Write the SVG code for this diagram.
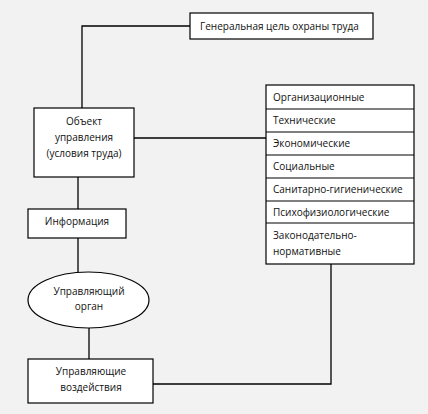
<svg xmlns="http://www.w3.org/2000/svg" width="428" height="414" viewBox="0 0 428 414">
<style>
.b{fill:#fff;stroke:#000;stroke-width:1.2}
.c{fill:none;stroke:#000;stroke-width:1.3}
text{font-family:"Open Sans","Noto Sans","Liberation Sans",sans-serif;font-size:10px;fill:#111}
.m{text-anchor:middle}
</style>
<rect width="428" height="414" fill="#f2f2f2"/>
<g id="connectors">
<polyline class="c" points="190,26 82,26 82,108"/>
<line class="c" x1="134" y1="138" x2="266" y2="138"/>
<line class="c" x1="78" y1="177" x2="78" y2="209"/>
<line class="c" x1="78" y1="238" x2="78" y2="272"/>
<line class="c" x1="89" y1="328" x2="89" y2="359"/>
<polyline class="c" points="153,384 331,384 331,264"/>
</g>
<g id="goal">
<rect class="b" x="190" y="13" width="183" height="26"/>
<text x="200" y="30">Генеральная цель охраны труда</text>
</g>
<g id="object">
<rect class="b" x="34" y="108" width="100" height="69"/>
<text class="m" x="84" y="125">Объект</text>
<text class="m" x="84" y="141">управления</text>
<text class="m" x="84" y="157">(условия труда)</text>
</g>
<g id="info">
<rect class="b" x="28" y="209" width="98" height="29"/>
<text class="m" x="77" y="225">Информация</text>
</g>
<g id="organ">
<ellipse class="b" cx="88.5" cy="300" rx="60.5" ry="28"/>
<text class="m" x="89" y="295">Управляющий</text>
<text class="m" x="89" y="310">орган</text>
</g>
<g id="actions">
<rect class="b" x="28" y="359" width="125" height="44"/>
<text class="m" x="91" y="375">Управляющие</text>
<text class="m" x="91" y="391">воздействия</text>
</g>
<g id="factors">
<rect class="b" x="266" y="85" width="148" height="179"/>
<line class="b" x1="266" y1="109" x2="414" y2="109"/>
<line class="b" x1="266" y1="132" x2="414" y2="132"/>
<line class="b" x1="266" y1="155" x2="414" y2="155"/>
<line class="b" x1="266" y1="178" x2="414" y2="178"/>
<line class="b" x1="266" y1="201" x2="414" y2="201"/>
<line class="b" x1="266" y1="223" x2="414" y2="223"/>
<text x="273" y="101">Организационные</text>
<text x="273" y="124">Технические</text>
<text x="273" y="147">Экономические</text>
<text x="273" y="170">Социальные</text>
<text x="273" y="193">Санитарно-гигиенические</text>
<text x="273" y="216">Психофизиологические</text>
<text x="273" y="239">Законодательно-</text>
<text x="273" y="255">нормативные</text>
</g>
</svg>
